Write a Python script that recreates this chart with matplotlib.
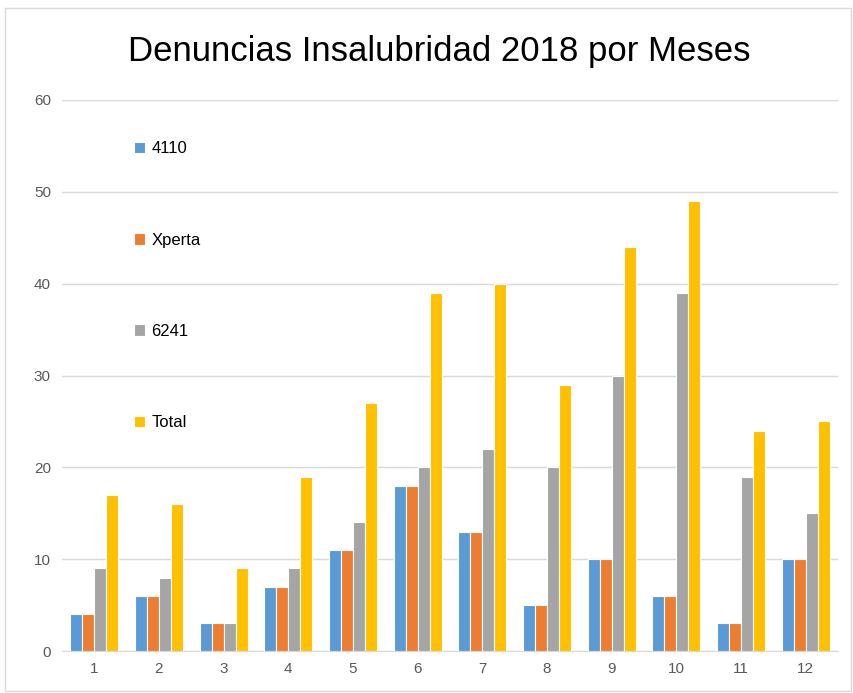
import numpy as np
import matplotlib.pyplot as plt
from matplotlib.patches import Rectangle

months = ["1", "2", "3", "4", "5", "6", "7", "8", "9", "10", "11", "12"]
s4110 = [4, 6, 3, 7, 11, 18, 13, 5, 10, 6, 3, 10]
xperta = [4, 6, 3, 7, 11, 18, 13, 5, 10, 6, 3, 10]
s6241 = [9, 8, 3, 9, 14, 20, 22, 20, 30, 39, 19, 15]
total = [17, 16, 9, 19, 27, 39, 40, 29, 44, 49, 24, 25]

series = [("4110", s4110, "#5B9BD5"),
          ("Xperta", xperta, "#ED7D31"),
          ("6241", s6241, "#A5A5A5"),
          ("Total", total, "#FFC000")]

plt.rcParams['font.family'] = ['Liberation Sans', 'DejaVu Sans']

fig = plt.figure(figsize=(8.54, 6.93), dpi=100)
ax = fig.add_axes([0.0726, 0.0606, 0.9086, 0.7951])

# chart border
fig.patches.append(Rectangle((0.006, 0.003), 0.99, 0.985, transform=fig.transFigure,
                             fill=False, edgecolor="#d9d9d9", linewidth=1))

x = np.arange(len(months))
step = 0.185
for i, (name, vals, col) in enumerate(series):
    ax.bar(x + (i - 1.5) * step, vals, width=step, color=col, label=name,
           edgecolor="white", linewidth=0.8, zorder=3)

ax.set_xlim(-0.5, 11.5)
ax.set_ylim(0, 60)
ax.set_yticks(range(0, 61, 10))
ax.set_xticks(x)
ax.set_xticklabels(months)
ax.grid(axis="y", color="#d9d9d9", linewidth=1, zorder=0)
for sp in ["top", "right", "left"]:
    ax.spines[sp].set_visible(False)
ax.spines["bottom"].set_color("#d9d9d9")
ax.tick_params(axis="both", length=0, colors="#595959", labelsize=11, pad=8)

fig.text(0.514, 0.925, "Denuncias Insalubridad 2018 por Meses", ha="center", va="center",
         fontsize=25, color="black")

ax.legend(loc="upper left", bbox_to_anchor=(0.073, 0.952), frameon=False,
          fontsize=12, handlelength=0.7, handleheight=0.7, handletextpad=0.35,
          labelspacing=4.58)

fig.savefig("out.png", dpi=100)
